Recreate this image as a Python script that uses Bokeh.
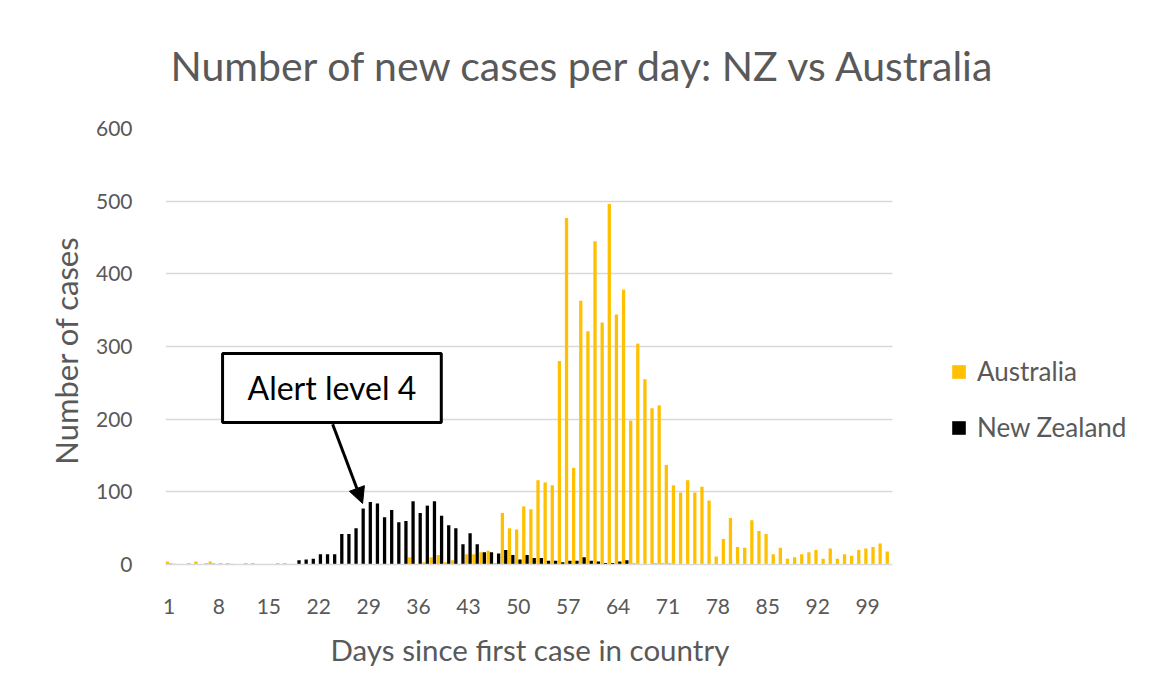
from bokeh.plotting import figure
from bokeh.models import (ColumnDataSource, Range1d, FixedTicker, Legend, LegendItem,
                          Label, Arrow, NormalHead, BoxAnnotation, Title)
from bokeh.transform import dodge
from bokeh.embed import file_html
from bokeh.resources import INLINE

# ---------------- data ----------------
days = list(range(1, 103))
tick_days = list(range(1, 103, 7))

australia = (
    [4, 1, 0, 2, 4, 0, 4, 0, 0, 1, 0, 2, 2]
    + [0] * 21
    + [10, 0, 3, 10, 13, 3, 6, 0, 14, 14, 17, 19, 2]
    + [71, 50, 48, 80, 76, 116, 113, 109, 280, 477, 133, 363, 321, 445, 333,
       496, 344, 378, 198, 304, 255, 215, 219, 137, 109, 99, 116, 99, 107, 88]
    + [11, 35, 64, 24, 23, 61, 46, 42, 14, 23, 8, 10, 14, 17, 20, 8, 22, 8,
       14, 12, 20, 22, 24, 29, 18]
)

new_zealand = (
    [1, 0, 0, 0, 0, 1, 1, 1, 1, 0, 0, 0, 0, 0, 0, 1, 1, 0]
    + [6, 7, 8, 14, 14, 14, 42, 42, 50, 77, 86, 84, 65, 75, 58, 60, 87, 71, 81,
       87, 67, 54, 50, 28, 43, 28, 17, 17, 15, 20, 13, 7, 13, 9, 9, 5, 5, 3, 5,
       5, 10, 5, 4, 2, 2, 4, 6, 1, 0, 0, 1, 1, 1]
    + [0] * 31
)

series_names = ["Australia", "New Zealand"]
series_colors = ["#FFC000", "#000000"]
alert_day = 28
alert_text = "Alert level 4"

title_text = "Number of new cases per day: NZ vs Australia"
x_label = "Days since first case in country"
y_label = "Number of  cases"

# ---------------- figure ----------------
TXT = "#595959"
FONT = "Lato"
n_days = len(days)
FIG_W, FIG_H = 1143, 690
LEFT, RIGHT, TOP, BOTTOM = 165, 0, 128, 126
PX_PER_DAY = 7.1275
frame_w = FIG_W - LEFT - RIGHT
x_end = 0.5 + frame_w / PX_PER_DAY   # room on the right for the legend

src = ColumnDataSource(dict(day=days, aus=australia, nz=new_zealand))

p = figure(width=FIG_W, height=FIG_H, output_backend="svg", toolbar_location=None,
           x_range=Range1d(0.5, x_end), y_range=Range1d(0, 600),
           min_border_left=LEFT, min_border_right=RIGHT,
           min_border_top=TOP, min_border_bottom=BOTTOM)
p.outline_line_color = None
p.background_fill_color = "white"
p.border_fill_color = "white"

r_aus = p.vbar(x=dodge("day", -0.235, range=p.x_range), top="aus", width=0.46,
               source=src, fill_color=series_colors[0], line_color=None)
r_nz = p.vbar(x=dodge("day", 0.235, range=p.x_range), top="nz", width=0.46,
              source=src, fill_color=series_colors[1], line_color=None)

# title
p.title.text = title_text
p.title.text_font = FONT
p.title.text_font_size = "41px"
p.title.text_font_style = "normal"
p.title.text_color = TXT
p.title.align = "left"
p.title.vertical_align = "top"
p.title.offset = 5
p.title.standoff = 74

# grid
p.xgrid.grid_line_color = None
p.ygrid.grid_line_color = "#d9d9d9"
p.ygrid.grid_line_width = 1.5
p.ygrid.ticker = FixedTicker(ticks=[0, 100, 200, 300, 400, 500, 600])

# white cover so the grid stops at the end of the category axis
p.add_layout(BoxAnnotation(left=n_days + 0.5, fill_color="white", fill_alpha=1.0,
                           line_color=None))

# axes
p.yaxis.ticker = FixedTicker(ticks=[0, 100, 200, 300, 400, 500, 600])
p.xaxis.ticker = FixedTicker(ticks=tick_days)
p.xaxis.bounds = (0.5, n_days + 0.5)
for ax in (p.xaxis[0], p.yaxis[0]):
    ax.major_tick_line_color = None
    ax.minor_tick_line_color = None
    ax.major_label_text_font = FONT
    ax.major_label_text_font_size = "21px"
    ax.major_label_text_color = TXT
    ax.axis_label_text_font = FONT
    ax.axis_label_text_font_style = "normal"
    ax.axis_label_text_color = TXT
p.yaxis.axis_line_color = None
p.xaxis.axis_line_color = "#d9d9d9"
p.xaxis.axis_line_width = 1.5
p.yaxis.major_label_standoff = 27
p.xaxis.major_label_standoff = 28
p.yaxis.axis_label = y_label
p.yaxis.axis_label_text_font_size = "31px"
p.yaxis.axis_label_standoff = 8

# x-axis title, centred under the day axis (not under the whole frame)
xt = Title(text=x_label, align="left", offset=165, text_font=FONT,
           text_font_size="29.5px", text_font_style="normal", text_color=TXT,
           standoff=26)
p.add_layout(xt, "below")

# legend
legend = Legend(items=[LegendItem(label=series_names[0], renderers=[r_aus]),
                       LegendItem(label=series_names[1], renderers=[r_nz])],
                location=(785, 121), orientation="vertical",
                glyph_width=17, glyph_height=17, label_height=25,
                spacing=24, padding=0, margin=0, label_standoff=10,
                label_text_font=FONT, label_text_font_size="26px",
                label_text_color=TXT, border_line_color=None,
                background_fill_alpha=0)
p.add_layout(legend, "center")

# annotation
arrow = Arrow(end=NormalHead(size=16, fill_color="black", line_color="black"),
              x_start=23.95, y_start=193, x_end=alert_day + 0.15,
              y_end=new_zealand[alert_day - 1] + 7,
              line_width=3, line_color="black")
p.add_layout(arrow)
lab = Label(x=23.85, y=243, text=alert_text, text_align="center",
            text_baseline="middle", text_font=FONT, text_font_size="32px",
            text_color="black", background_fill_color="white",
            border_line_color="black", border_line_width=3,
            padding=dict(left=25, right=25, top=15, bottom=15))
p.add_layout(lab)

open("out.html", "w").write(file_html(p, INLINE))
